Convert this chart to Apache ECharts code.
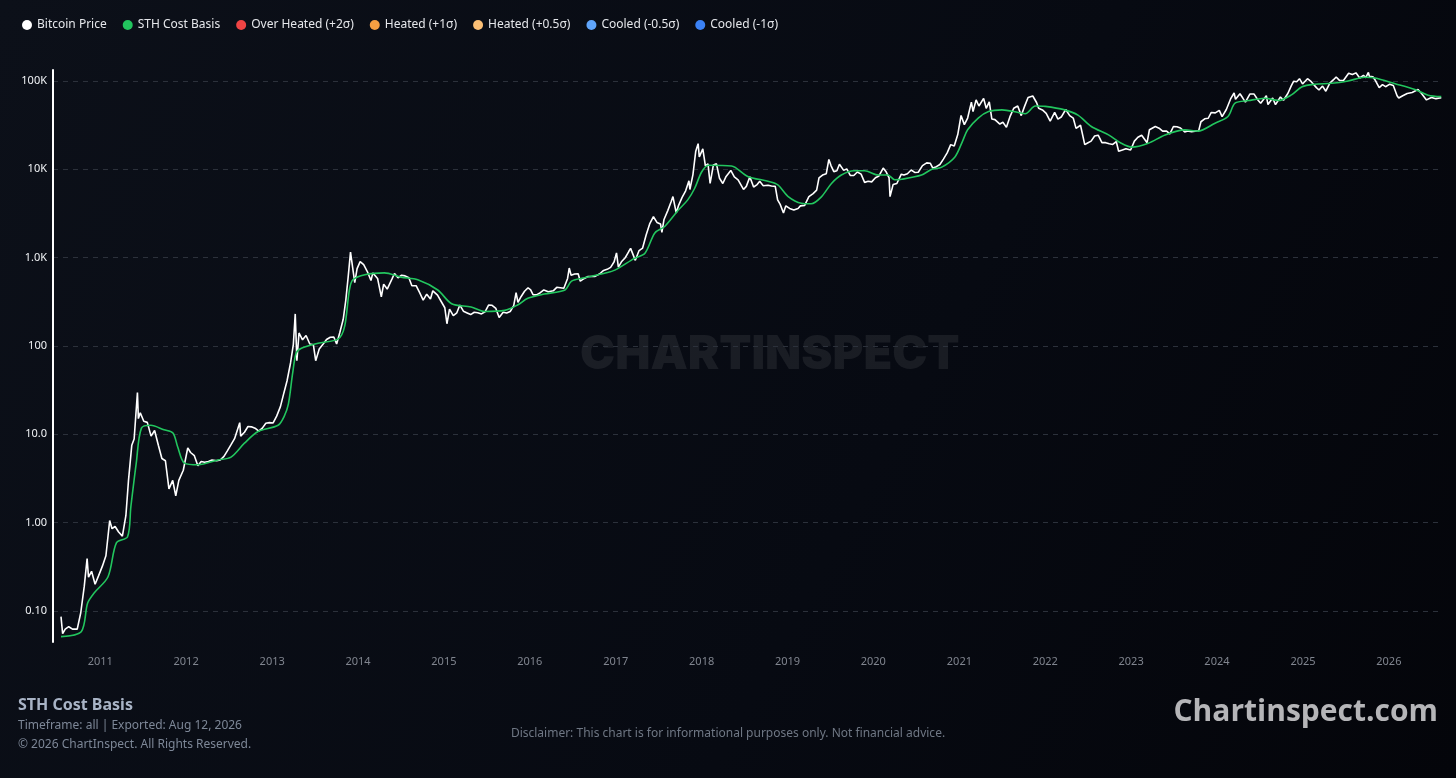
<!DOCTYPE html>
<html><head><meta charset="utf-8">
<script src="https://cdn.jsdelivr.net/npm/echarts@6/dist/echarts.min.js"></script>
<style>html,body{margin:0;padding:0;background:#080b13;}#c{width:1456px;height:778px;}</style>
</head><body><div id="c"></div>
<script>
// ---- Data ----
const legendNames = ['Bitcoin Price','STH Cost Basis','Over Heated (+2σ)','Heated (+1σ)','Heated (+0.5σ)','Cooled (-0.5σ)','Cooled (-1σ)'];
const legendColors = ['#ffffff','#22c55e','#ef4444','#f59e42','#fbbf75','#60a5fa','#3b82f6'];
const yTickValues = [0.1, 1, 10, 100, 1000, 10000, 100000];
const yTickLabels = ['0.10','1.00','10.0','100','1.0K','10K','100K'];

const btcPrice = [
['2010-07-18',0.086],['2010-07-25',0.055],['2010-08-05',0.062],['2010-08-20',0.066],['2010-09-05',0.062],['2010-09-25',0.062],
['2010-10-10',0.095],['2010-10-25',0.19],['2010-11-06',0.39],['2010-11-12',0.24],['2010-11-25',0.28],['2010-12-10',0.20],['2010-12-25',0.25],
['2011-01-10',0.32],['2011-01-25',0.42],['2011-02-10',1.05],['2011-02-20',0.85],['2011-03-05',0.90],['2011-03-20',0.78],['2011-04-05',0.70],
['2011-04-20',1.20],['2011-05-01',3.0],['2011-05-15',7.5],['2011-05-25',8.8],['2011-06-08',29.6],['2011-06-12',15],['2011-06-20',17.5],
['2011-07-05',14],['2011-07-20',13.6],['2011-08-05',9.5],['2011-08-20',11],['2011-09-05',7.5],['2011-09-20',5.3],['2011-10-05',5.0],
['2011-10-20',2.4],['2011-11-05',3.0],['2011-11-18',2.0],['2011-12-01',3.0],['2011-12-20',3.9],
['2012-01-08',7.0],['2012-01-20',6.2],['2012-02-05',5.7],['2012-02-20',4.4],['2012-03-05',4.9],['2012-03-20',4.8],['2012-04-05',4.9],
['2012-04-20',5.1],['2012-05-10',5.0],['2012-05-25',5.1],['2012-06-10',5.6],['2012-06-25',6.5],['2012-07-10',7.6],['2012-07-25',8.9],
['2012-08-16',13.5],['2012-08-20',9.5],['2012-09-05',10.5],['2012-09-20',12.2],['2012-10-05',12.1],['2012-10-20',11.7],['2012-11-05',10.8],
['2012-11-20',11.7],['2012-12-05',13.3],['2012-12-20',13.5],
['2013-01-05',13.4],['2013-01-20',16],['2013-02-05',20.5],['2013-02-20',29.5],['2013-03-05',40],['2013-03-20',64],['2013-04-01',104],
['2013-04-09',230],['2013-04-16',68],['2013-04-25',140],['2013-05-10',117],['2013-05-25',131],['2013-06-10',105],['2013-06-25',103],
['2013-07-05',68],['2013-07-20',92],['2013-08-05',104],['2013-08-20',118],['2013-09-05',125],['2013-09-20',126],['2013-10-02',105],
['2013-10-15',140],['2013-10-30',200],['2013-11-10',330],['2013-11-20',600],['2013-11-30',1150],['2013-12-05',1100],['2013-12-18',520],['2013-12-28',750],
['2014-01-10',900],['2014-01-25',830],['2014-02-10',690],['2014-02-25',550],['2014-03-05',670],['2014-03-25',580],['2014-04-10',360],
['2014-04-20',500],['2014-05-05',440],['2014-05-25',570],['2014-06-05',660],['2014-06-20',590],['2014-07-05',630],['2014-07-20',620],
['2014-08-05',590],['2014-08-18',480],['2014-09-05',480],['2014-09-20',400],['2014-10-05',330],['2014-10-20',385],['2014-11-05',340],
['2014-11-15',420],['2014-12-05',375],['2014-12-20',320],
['2015-01-05',270],['2015-01-14',178],['2015-01-25',260],['2015-02-10',220],['2015-02-25',237],['2015-03-10',290],['2015-03-25',247],
['2015-04-10',236],['2015-04-25',226],['2015-05-10',240],['2015-05-25',237],['2015-06-10',230],['2015-06-25',243],['2015-07-10',290],
['2015-07-25',288],['2015-08-10',265],['2015-08-24',210],['2015-09-10',240],['2015-09-25',235],['2015-10-10',245],['2015-10-25',285],
['2015-11-04',400],['2015-11-12',310],['2015-11-25',360],['2015-12-10',415],['2015-12-25',455],
['2016-01-05',430],['2016-01-15',380],['2016-01-30',378],['2016-02-15',400],['2016-03-01',430],['2016-03-20',410],['2016-04-10',420],
['2016-04-25',460],['2016-05-10',455],['2016-05-25',450],['2016-06-10',580],['2016-06-17',760],['2016-06-25',630],['2016-07-10',650],
['2016-07-25',655],['2016-08-03',540],['2016-08-20',580],['2016-09-05',610],['2016-09-20',610],['2016-10-05',612],['2016-10-25',655],
['2016-11-10',715],['2016-11-25',735],['2016-12-10',775],['2016-12-25',895],
['2017-01-04',1130],['2017-01-12',780],['2017-01-25',895],['2017-02-10',995],['2017-02-25',1170],['2017-03-05',1270],['2017-03-25',930],
['2017-04-10',1200],['2017-04-25',1280],['2017-05-10',1800],['2017-05-25',2400],['2017-06-10',2900],['2017-06-25',2500],['2017-07-10',2400],
['2017-07-16',1930],['2017-07-25',2700],['2017-08-10',3400],['2017-08-25',4350],['2017-09-01',4900],['2017-09-15',3200],['2017-09-25',3900],
['2017-10-10',4800],['2017-10-25',5700],['2017-11-08',7400],['2017-11-12',5900],['2017-11-25',8700],['2017-12-07',16000],['2017-12-17',19500],
['2017-12-22',13800],
['2018-01-06',17000],['2018-01-17',10900],['2018-01-28',11500],['2018-02-06',6900],['2018-02-20',11200],['2018-03-05',11500],['2018-03-18',7900],
['2018-04-01',6900],['2018-04-15',8300],['2018-05-05',9700],['2018-05-20',8200],['2018-06-05',7600],['2018-06-28',5900],['2018-07-10',6400],
['2018-07-25',8200],['2018-08-10',6300],['2018-08-25',6700],['2018-09-05',7300],['2018-09-20',6500],['2018-10-10',6600],['2018-10-25',6450],
['2018-11-10',6400],['2018-11-20',4500],['2018-12-01',4000],['2018-12-15',3200],['2018-12-25',3850],
['2019-01-10',3600],['2019-01-28',3450],['2019-02-15',3600],['2019-02-25',3850],['2019-03-15',3900],['2019-04-02',4900],['2019-04-20',5300],
['2019-05-05',5800],['2019-05-15',8000],['2019-05-30',8600],['2019-06-15',8900],['2019-06-26',12900],['2019-07-05',11000],['2019-07-17',9400],
['2019-07-30',9600],['2019-08-10',11400],['2019-08-28',9700],['2019-09-10',10100],['2019-09-25',8500],['2019-10-10',8500],['2019-10-25',9300],
['2019-11-10',8800],['2019-11-25',7100],['2019-12-10',7300],['2019-12-25',7200],
['2020-01-10',8000],['2020-01-25',8400],['2020-02-12',10300],['2020-02-25',9300],['2020-03-08',8000],['2020-03-12',4900],['2020-03-25',6700],
['2020-04-10',6900],['2020-04-29',8800],['2020-05-10',8600],['2020-05-25',8900],['2020-06-10',9800],['2020-06-25',9200],['2020-07-10',9250],
['2020-07-28',11000],['2020-08-15',11800],['2020-08-30',11700],['2020-09-10',10300],['2020-09-25',10700],['2020-10-10',11300],['2020-10-25',13000],
['2020-11-10',15300],['2020-11-25',19000],['2020-12-10',18300],['2020-12-25',24700],
['2021-01-08',40600],['2021-01-22',32000],['2021-02-05',38000],['2021-02-21',57500],['2021-02-28',45000],['2021-03-13',61000],['2021-03-25',52000],
['2021-04-14',63500],['2021-04-25',49000],['2021-05-08',58000],['2021-05-19',37000],['2021-06-01',36500],['2021-06-22',32500],['2021-07-05',34000],
['2021-07-20',29800],['2021-08-05',40000],['2021-08-20',49000],['2021-09-06',52000],['2021-09-21',40500],['2021-10-05',51500],['2021-10-20',65000],
['2021-11-09',67500],['2021-11-25',57000],['2021-12-04',49000],['2021-12-20',47000],
['2022-01-05',43000],['2022-01-22',35000],['2022-02-10',44000],['2022-02-24',37000],['2022-03-10',39000],['2022-03-29',47500],['2022-04-15',40500],
['2022-04-30',38000],['2022-05-12',29000],['2022-05-31',31500],['2022-06-18',19000],['2022-06-30',19800],['2022-07-15',20800],['2022-07-30',23800],
['2022-08-14',24300],['2022-08-30',20000],['2022-09-15',20000],['2022-09-30',19400],['2022-10-15',19100],['2022-10-30',20600],['2022-11-09',16000],
['2022-11-25',16500],['2022-12-10',17100],['2022-12-30',16500],
['2023-01-15',20800],['2023-01-30',23000],['2023-02-15',24300],['2023-03-10',20000],['2023-03-20',28000],['2023-04-14',30500],['2023-04-30',29200],
['2023-05-15',27000],['2023-06-01',27000],['2023-06-15',25100],['2023-06-30',30500],['2023-07-15',30300],['2023-07-30',29300],['2023-08-17',26500],
['2023-08-30',27200],['2023-09-15',26600],['2023-09-30',27000],['2023-10-15',27000],['2023-10-25',34500],['2023-11-10',37300],['2023-11-25',37800],
['2023-12-08',44000],['2023-12-25',43500],
['2024-01-11',46500],['2024-01-23',39500],['2024-02-10',47500],['2024-02-28',62500],['2024-03-14',73000],['2024-03-20',62000],['2024-04-08',71500],
['2024-04-20',64000],['2024-05-01',57500],['2024-05-20',71000],['2024-06-07',71000],['2024-06-24',60500],['2024-07-05',56000],['2024-07-29',68000],
['2024-08-05',54000],['2024-08-25',64000],['2024-09-06',54000],['2024-09-27',65800],['2024-10-10',60500],['2024-10-29',72500],['2024-11-12',88000],
['2024-11-22',99000],['2024-12-05',98000],['2024-12-17',106000],['2024-12-30',92500],
['2025-01-20',106000],['2025-02-05',98000],['2025-02-27',84000],['2025-03-10',79000],['2025-03-25',87500],['2025-04-08',76500],['2025-04-25',94500],
['2025-05-12',104000],['2025-05-22',111000],['2025-06-05',101500],['2025-06-22',101000],['2025-07-14',122000],['2025-07-30',118000],['2025-08-14',123500],
['2025-08-30',108000],['2025-09-15',115500],['2025-09-25',109000],['2025-10-06',124700],['2025-10-10',113000],['2025-10-25',111500],['2025-11-05',101000],
['2025-11-21',84000],['2025-12-05',91000],['2025-12-18',86000],
['2026-01-05',92000],['2026-01-20',89000],['2026-02-05',68000],['2026-02-12',64000],['2026-03-01',68000],['2026-03-20',72000],['2026-04-10',74000],
['2026-05-05',80000],['2026-05-20',72000],['2026-06-10',61000],['2026-07-01',65000],['2026-07-20',63000],['2026-08-12',64500]
];

const sthCostBasis = [
['2010-07-18',0.051],['2010-10-12',0.058],['2010-11-08',0.122],['2010-12-05',0.158],['2011-02-03',0.243],['2011-03-11',0.59],['2011-04-27',0.69],
['2011-05-11',1.5],['2011-06-03',4.7],['2011-06-25',11.7],['2011-08-04',12.6],['2011-09-29',11.2],['2011-11-06',10.3],['2011-11-26',7.2],
['2011-12-25',4.7],['2012-02-21',4.5],['2012-05-15',5.1],['2012-07-10',5.5],['2012-09-05',7.9],['2012-11-02',10.7],['2013-01-26',12.6],
['2013-02-21',15.9],['2013-03-11',22],['2013-03-29',49],['2013-04-13',83],['2013-05-05',94],['2013-07-15',107],['2013-10-09',120],
['2013-11-05',166],['2013-11-25',426],['2013-12-10',560],['2014-01-30',640],['2014-04-23',670],['2014-07-03',600],['2014-09-12',560],
['2014-12-06',429],['2015-02-03',300],['2015-04-27',276],['2015-06-23',245],['2015-09-17',252],['2015-11-10',290],['2015-12-24',345],
['2016-03-03',386],['2016-05-30',430],['2016-06-27',540],['2016-08-22',590],['2016-11-14',665],['2016-12-28',720],['2017-03-21',980],
['2017-05-05',1120],['2017-06-16',1900],['2017-07-28',2250],['2017-09-24',3450],['2017-11-03',4500],['2017-12-02',6050],['2018-01-01',9300],
['2018-01-30',11100],['2018-05-08',10900],['2018-07-16',8300],['2018-10-10',7300],['2018-11-21',6650],['2019-01-04',4900],['2019-03-01',4120],
['2019-04-12',4060],['2019-05-26',4900],['2019-07-07',6900],['2019-08-18',8600],['2019-10-12',9600],['2019-11-25',9600],['2020-01-23',8600],
['2020-03-03',8600],['2020-04-01',7600],['2020-05-01',7700],['2020-07-24',8600],['2020-09-06',10000],['2020-10-16',10500],['2020-12-13',13800],
['2021-01-15',21000],['2021-02-05',28000],['2021-03-22',38000],['2021-05-05',45000],['2021-07-01',47000],['2021-09-08',44000],['2021-10-08',42500],
['2021-11-20',52000],['2022-01-01',51500],['2022-03-25',47000],['2022-05-20',41000],['2022-07-16',30500],['2022-09-27',24500],['2022-11-20',19700],
['2023-01-04',17800],['2023-03-15',19700],['2023-05-26',24500],['2023-08-18',27900],['2023-10-12',27000],['2023-12-24',33200],['2024-02-17',39500],
['2024-03-18',56000],['2024-05-15',60000],['2024-07-23',63700],['2024-09-18',60000],['2024-11-13',69600],['2024-12-28',86000],['2025-02-20',91800],
['2025-05-02',94000],['2025-07-12',100000],['2025-09-20',110000],['2025-11-03',108000],['2026-01-28',93000],['2026-04-22',80000],['2026-06-17',69000],
['2026-08-12',66500]
];

// ---- Chart ----
const chart = echarts.init(document.getElementById('c'), null, {renderer:'canvas'});
const FONT = '"Noto Sans", "Open Sans", sans-serif';
const series = [
  {name: legendNames[0], type:'line', data: btcPrice, showSymbol:false, symbol:'none', smooth:false,
   lineStyle:{color: legendColors[0], width:1.6}, itemStyle:{color: legendColors[0]}, z:3},
  {name: legendNames[1], type:'line', data: sthCostBasis, showSymbol:false, symbol:'none', smooth:0.3,
   lineStyle:{color: legendColors[1], width:1.6}, itemStyle:{color: legendColors[1]}, z:4}
];
for (let i = 2; i < legendNames.length; i++) {
  series.push({name: legendNames[i], type:'line', data: [], showSymbol:false,
    lineStyle:{color: legendColors[i]}, itemStyle:{color: legendColors[i]}});
}

chart.setOption({
  backgroundColor: {type:'linear', x:0, y:0, x2:1, y2:1, colorStops:[
    {offset:0, color:'#0c1019'}, {offset:0.6, color:'#070a12'}, {offset:1, color:'#04050a'}]},
  textStyle: {fontFamily: FONT},
  animation: false,
  legend: {
    left: 17, top: 14, icon:'circle', itemWidth:10, itemHeight:10, itemGap:16,
    data: legendNames,
    textStyle: {color:'#e5e7eb', fontSize:12, fontFamily: FONT}
  },
  grid: {left:53, right:14, top:70, bottom:136, containLabel:false},
  xAxis: {
    type:'time', min:'2010-06-14', max:'2026-08-15',
    minInterval: 365*24*3600*1000, maxInterval: 366*24*3600*1000,
    axisLine:{show:false}, axisTick:{show:false}, splitLine:{show:false},
    axisLabel:{color:'#80858f', fontSize:11, margin:14, hideOverlap:false,
      showMinLabel:false, showMaxLabel:false,
      formatter: function(v){ const d = new Date(v); return (d.getMonth()===0 && d.getDate()===1) ? String(d.getFullYear()) : ''; }}
  },
  yAxis: {
    type:'log', logBase:10, min:0.0443, max:133000,
    axisLine:{show:true, lineStyle:{color:'#ffffff', width:2}},
    axisTick:{show:false},
    axisLabel:{color:'#f1f3f6', fontSize:11, margin:6, showMinLabel:false, showMaxLabel:false,
      formatter: function(v){
        for (let i=0;i<yTickValues.length;i++){ if (Math.abs(Math.log10(v)-Math.log10(yTickValues[i]))<1e-6) return yTickLabels[i]; }
        return '';
      }},
    splitLine:{show:true, showMinLine:false, showMaxLine:false, lineStyle:{color:'#2c313b', type:[5,5], width:1}}
  },
  graphic: [
    {type:'text', left:580, top:331, z:0, silent:true,
     style:{text:'CHARTINSPECT', fill:'rgba(255,255,255,0.075)', font:'900 47px Inter, "Noto Sans", sans-serif'}},
    {type:'text', left:18, top:697, style:{text:'STH Cost Basis', fill:'#a9b4c6', font:'bold 16px '+FONT}},
    {type:'text', left:18, top:720, style:{text:'Timeframe: all | Exported: Aug 12, 2026', fill:'#7d8797', font:'12px '+FONT}},
    {type:'text', left:18, top:739, style:{text:'© 2026 ChartInspect. All Rights Reserved.', fill:'#7d8797', font:'12px '+FONT}},
    {type:'text', left:'center', top:728, style:{text:'Disclaimer: This chart is for informational purposes only. Not financial advice.', fill:'#6f7784', font:'12px '+FONT}},
    {type:'text', right:18, top:697, style:{text:'Chartinspect.com', fill:'#b5b5b8', font:'bold 30px "Open Sans", "Noto Sans", sans-serif'}}
  ],
  series: series
});
</script>
</body></html>
